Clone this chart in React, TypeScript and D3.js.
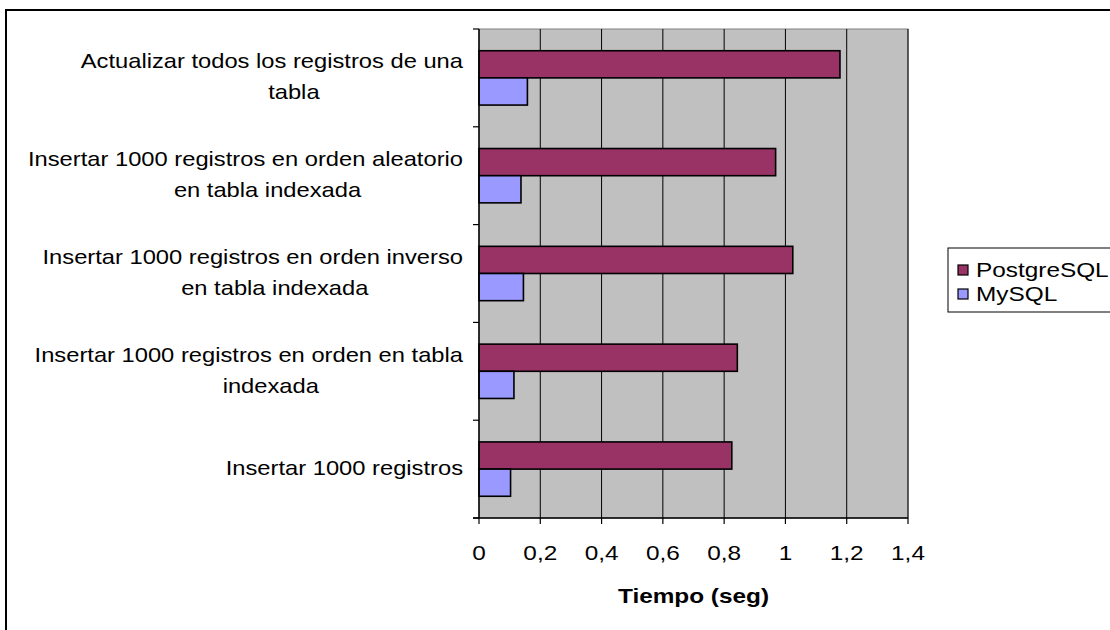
import React, { useEffect, useRef } from "react";
import * as d3 from "d3";

const categories: string[][] = [
  ["Actualizar todos los registros de una", "tabla"],
  ["Insertar 1000 registros en orden aleatorio", "en tabla indexada"],
  ["Insertar 1000 registros en orden inverso", "en tabla indexada"],
  ["Insertar 1000 registros en orden en tabla", "indexada"],
  ["Insertar 1000 registros"],
];
const postgres = [1.178, 0.968, 1.024, 0.843, 0.825];
const mysql = [0.158, 0.137, 0.145, 0.114, 0.103];
const seriesNames = ["PostgreSQL", "MySQL"];
const xTicks = [0, 0.2, 0.4, 0.6, 0.8, 1, 1.2, 1.4];
const axisTitle = "Tiempo (seg)";

const COLORS = ["#993366", "#9999FF"];
const FONT = "'Liberation Sans', Arial, sans-serif";
const SX = 1.16;
const SX_LABEL = 1.13;

export default function App() {
  const ref = useRef<SVGSVGElement>(null);
  useEffect(() => {
    const svg = d3.select(ref.current);
    svg.selectAll("*").remove();
    const W = 1110, H = 630;
    const left = 479, right = 908, top = 29, bottom = 518;

    const txt = (g: any, tx: number, ty: number, s: string, anchor: string, size: number, weight = "normal", sx = SX) =>
      g.append("text")
        .attr("transform", `translate(${tx},${ty}) scale(${sx},1)`)
        .attr("text-anchor", anchor).attr("font-family", FONT).attr("font-size", size)
        .attr("font-weight", weight).attr("fill", "#000").text(s);

    svg.append("rect").attr("x", 6).attr("y", 10).attr("width", W).attr("height", H)
      .attr("fill", "white").attr("stroke", "black").attr("stroke-width", 2);

    const x = d3.scaleLinear().domain([0, 1.4]).range([left, right]);
    const idx = categories.map((_, i) => String(i));
    const y = d3.scaleBand().domain(idx).range([top, bottom]).paddingInner(0).paddingOuter(0);
    const inner = d3.scaleBand().domain(["0", "1"]).range([0, y.bandwidth()]).paddingOuter(0.8).paddingInner(0);

    svg.append("rect").attr("x", left).attr("y", top).attr("width", right - left).attr("height", bottom - top)
      .attr("fill", "#C0C0C0").attr("stroke", "#808080").attr("stroke-width", 1);

    // gridlines
    svg.append("g").selectAll("line").data(xTicks.slice(1)).join("line")
      .attr("x1", d => x(d)).attr("x2", d => x(d)).attr("y1", top).attr("y2", bottom)
      .attr("stroke", "#000").attr("stroke-width", 1);

    // bars
    const series = [postgres, mysql];
    series.forEach((vals, s) => {
      svg.append("g").selectAll("rect").data(vals).join("rect")
        .attr("x", x(0))
        .attr("y", (_, i) => (y(String(i)) as number) + (inner(String(s)) as number))
        .attr("width", d => x(d) - x(0))
        .attr("height", inner.bandwidth())
        .attr("fill", COLORS[s]).attr("stroke", "#000").attr("stroke-width", 1.6);
    });

    // axes
    svg.append("line").attr("x1", left).attr("x2", left).attr("y1", top).attr("y2", bottom)
      .attr("stroke", "#000").attr("stroke-width", 1.5);
    svg.append("line").attr("x1", left - 6).attr("x2", right).attr("y1", bottom).attr("y2", bottom)
      .attr("stroke", "#000").attr("stroke-width", 1.5);
    const bounds = d3.range(categories.length + 1).map(i => top + i * y.step());
    svg.append("g").selectAll("line").data(bounds).join("line")
      .attr("x1", left - 6).attr("x2", left).attr("y1", d => d).attr("y2", d => d)
      .attr("stroke", "#000").attr("stroke-width", 1.2);
    svg.append("g").selectAll("line").data(xTicks).join("line")
      .attr("x1", d => x(d)).attr("x2", d => x(d)).attr("y1", bottom).attr("y2", bottom + 6)
      .attr("stroke", "#000").attr("stroke-width", 1.2);

    const fmt = (d: number) => String(d).replace(".", ",");
    const tg = svg.append("g");
    xTicks.forEach(d => txt(tg, x(d), 560, fmt(d), "middle", 21));

    txt(svg, (left + right) / 2, 603, axisTitle, "middle", 21, "bold");

    // category labels
    const lh = 31;
    categories.forEach((lines, i) => {
      const cy = (y(String(i)) as number) + y.bandwidth() / 2;
      const n = lines.length;
      const y0 = cy - ((n - 1) * lh) / 2 + 6;
      const first = txt(svg, 463, y0, lines[0], "end", 21, "normal", SX_LABEL);
      const w = (first.node() as SVGTextElement).getComputedTextLength() * SX_LABEL;
      const c = 463 - w / 2 + 22;
      lines.slice(1).forEach((ln, k) => {
        txt(svg, c, y0 + (k + 1) * lh, ln, "middle", 21, "normal", SX_LABEL);
      });
    });

    // legend
    const lg = svg.append("g");
    lg.append("rect").attr("x", 948).attr("y", 248).attr("width", 180).attr("height", 64)
      .attr("fill", "white").attr("stroke", "#000").attr("stroke-width", 1);
    seriesNames.forEach((nm, s) => {
      const ly = 270 + s * 24;
      lg.append("rect").attr("x", 958).attr("y", ly - 5).attr("width", 10).attr("height", 10)
        .attr("fill", COLORS[s]).attr("stroke", "#000").attr("stroke-width", 1.2);
      txt(lg, 976, ly + 7, nm, "start", 21);
    });
  }, []);
  return (
    <svg ref={ref} width={1110} height={630}
      style={{ position: "absolute", left: 0, top: 0, display: "block" }} />
  );
}
